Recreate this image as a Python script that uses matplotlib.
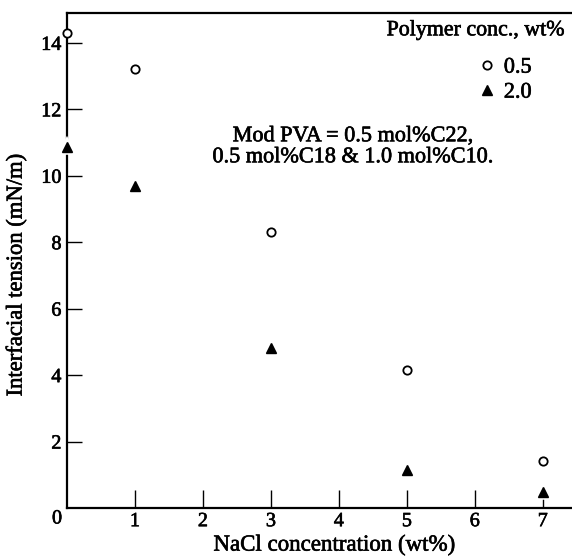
import matplotlib
matplotlib.use("Agg")
import matplotlib.pyplot as plt
import matplotlib.transforms as mtransforms
import matplotlib.patheffects as pe

plt.rcParams["font.family"] = ["Liberation Serif", "DejaVu Serif"]

# NaCl concentration (wt%)
nacl = [0, 1, 3, 5, 7]
# interfacial tension (mN/m) for the two polymer concentrations
ift_05 = [14.3, 13.2, 8.3, 4.15, 1.4]
ift_20 = [10.87, 9.7, 4.82, 1.14, 0.48]

series_labels = ["0.5", "2.0"]
legend_title = "Polymer conc., wt%"
note_lines = ["Mod PVA = 0.5 mol%C22,", "0.5 mol%C18 & 1.0 mol%C10."]
xticks = [1, 2, 3, 4, 5, 6, 7]
yticks = [2, 4, 6, 8, 10, 12, 14]

# scanned print looks a bit heavier than a plain font
ink = [pe.withStroke(linewidth=0.45, foreground="black")]

fig = plt.figure(figsize=(5.72, 5.57), dpi=100)
ax = fig.add_axes([67 / 572, 49 / 557, 505 / 572, 495 / 557])

halo = [pe.withStroke(linewidth=4, foreground="white")]
ax.plot(nacl, ift_05, linestyle="none", marker="o", markersize=6,
        markerfacecolor="white", markeredgecolor="black", markeredgewidth=1.3,
        clip_on=False, zorder=5, label=series_labels[0])
ax.plot(nacl, ift_20, linestyle="none", marker="^", markersize=7.5,
        markerfacecolor="black", markeredgecolor="black",
        clip_on=False, zorder=5, label=series_labels[1], path_effects=halo)

ax.set_xlim(0, 7.43)
ax.set_ylim(0, 14.9)
ax.set_xticks(xticks)
ax.set_yticks(yticks)
ax.tick_params(axis="both", direction="in", labelsize=14.5, width=1, color="black")
ax.tick_params(axis="x", length=13, pad=3)
ax.tick_params(axis="y", length=11, pad=4)
ax.spines["right"].set_visible(False)
for s in ["left", "top", "bottom"]:
    ax.spines[s].set_linewidth(1.6)
for lab in ax.get_xticklabels() + ax.get_yticklabels():
    lab.set_path_effects(ink)

# the "0" at the origin corner
off = mtransforms.offset_copy(ax.get_xaxis_transform(), fig=fig, x=-10, y=-11, units="dots")
ax.text(0, 0, "0", transform=off, ha="center", va="center", fontsize=14.5, path_effects=ink)

ax.set_xlabel("NaCl concentration (wt%)", fontsize=16.5, va="center", path_effects=ink)
ax.xaxis.set_label_coords((334 - 67) / 505, (508 - 545) / 495)
ax.set_ylabel("Interfacial tension (mN/m)", fontsize=16.3, va="center", path_effects=ink)
ax.yaxis.set_label_coords((16 - 67) / 505, (508 - 275) / 495)

ax.text(0.986, 0.964, legend_title, transform=ax.transAxes, ha="right",
        va="center", fontsize=15.8, path_effects=ink)
leg = ax.legend(loc="upper left", bbox_to_anchor=(0.81, 0.911), frameon=False,
                fontsize=16, handlelength=1.0, handletextpad=0.25, labelspacing=0.2,
                borderpad=0, borderaxespad=0, numpoints=1)
for t in leg.get_texts():
    t.set_path_effects(ink)

ax.text(4.21, (508 - 137) / 33.2, note_lines[0], ha="center", va="center",
        fontsize=16, path_effects=ink)
ax.text(4.21, (508 - 158) / 33.2, note_lines[1], ha="center", va="center",
        fontsize=16, path_effects=ink)

fig.savefig("out.png", dpi=100)
